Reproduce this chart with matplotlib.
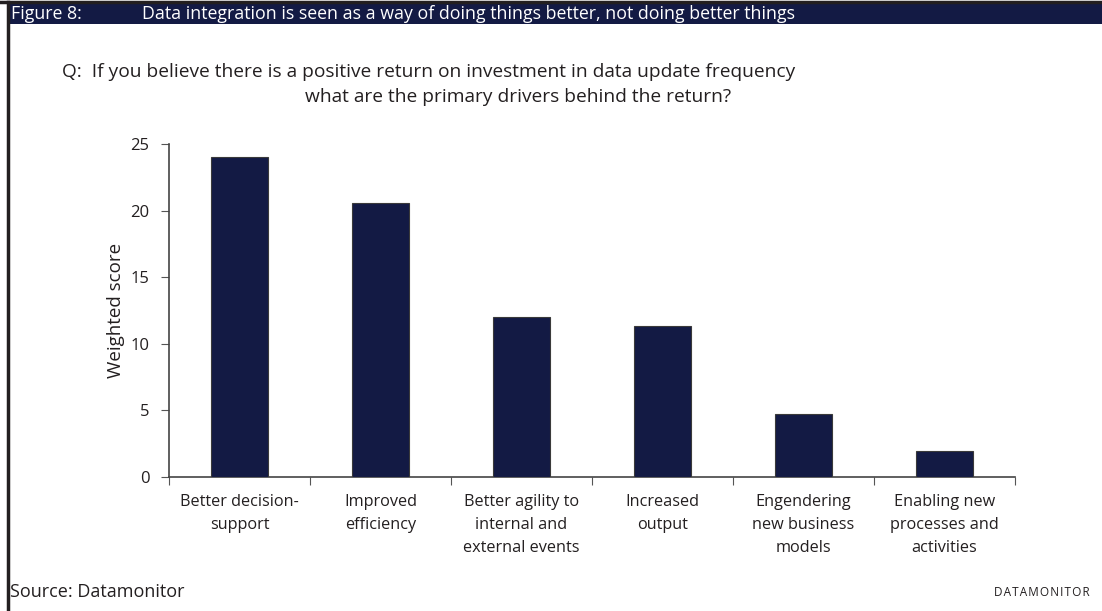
"""Figure 8: weighted score of ROI drivers for data update frequency."""
import matplotlib
matplotlib.use("Agg")
import matplotlib.pyplot as plt
from matplotlib.patches import Rectangle
from matplotlib.lines import Line2D

plt.rcParams.update({"font.family": ["Open Sans", "DejaVu Sans"]})

categories = [
    "Better decision-\nsupport",
    "Improved\nefficiency",
    "Better agility to\ninternal and\nexternal events",
    "Increased\noutput",
    "Engendering\nnew business\nmodels",
    "Enabling new\nprocesses and\nactivities",
]
scores = [24.0, 20.6, 12.0, 11.3, 4.7, 1.95]
y_ticks = [0, 5, 10, 15, 20, 25]

NAVY = "#131a44"
TEXT = "#231f20"
W, H = 1102, 611

fig = plt.figure(figsize=(W / 100, H / 100), dpi=100)
fig.patch.set_facecolor("white")

# frame lines: top and left
fig.add_artist(Line2D([0, 1], [1 - 1.5 / H, 1 - 1.5 / H], color=TEXT, lw=2.5))
fig.add_artist(Line2D([8 / W, 8 / W], [0, 1 - 1.5 / H], color=TEXT, lw=2.5))

# header band
fig.add_artist(Rectangle((9 / W, 1 - 24 / H), 1, 20 / H, color=NAVY, lw=0))
fig.text(11 / W, 1 - 14 / H, "Figure 8:", color="white", fontsize=12.8, va="center")
fig.text(142 / W, 1 - 14 / H,
         "Data integration is seen as a way of doing things better, not doing better things",
         color="white", fontsize=12.8, va="center")

# question
fig.text(62 / W, 1 - 72 / H,
         "Q:  If you believe there is a positive return on investment in data update frequency",
         color=TEXT, fontsize=13.8, va="center")
fig.text(518 / W, 1 - 97 / H, "what are the primary drivers behind the return?",
         color=TEXT, fontsize=13.8, va="center", ha="center")

# axes
left, right, top, bottom = 169, 1015, 144, 477
ax = fig.add_axes([left / W, 1 - bottom / H, (right - left) / W, (bottom - top) / H])
x = range(len(categories))
ax.bar(x, scores, width=0.4, color=NAVY, edgecolor="#3a3a3a", linewidth=0.8, zorder=3)
ax.set_xlim(-0.5, len(categories) - 0.5)
ax.set_ylim(0, 25)
ax.set_yticks(y_ticks)
ax.set_yticklabels([str(t) for t in y_ticks], fontsize=12, color=TEXT)
ax.set_xticks([i - 0.5 for i in range(len(categories) + 1)], minor=False)
ax.set_xticklabels([])
ax.set_xticks(list(x), minor=True)
ax.set_xticklabels(categories, minor=True, fontsize=11.7, color=TEXT,
                   linespacing=1.58, va="top")
ax.tick_params(axis="x", which="minor", length=0, pad=12)
ax.tick_params(axis="x", which="major", length=6, color="#555555", direction="out")
ax.tick_params(axis="y", length=6, color="#555555", direction="out", pad=8)
ax.set_ylabel("Weighted score", fontsize=13.5, color=TEXT, labelpad=4)
for s in ("top", "right"):
    ax.spines[s].set_visible(False)
for s in ("left", "bottom"):
    ax.spines[s].set_color("#444444")
    ax.spines[s].set_linewidth(1.2)

# footer
fig.text(10 / W, 1 - 592 / H, "Source: Datamonitor", color=TEXT, fontsize=13, va="center")
fig.text(1090 / W, 1 - 592 / H, "\u200a".join("DATAMONITOR"), color=TEXT,
         fontsize=8.5, va="center", ha="right")

fig.savefig("out.png", dpi=100)
